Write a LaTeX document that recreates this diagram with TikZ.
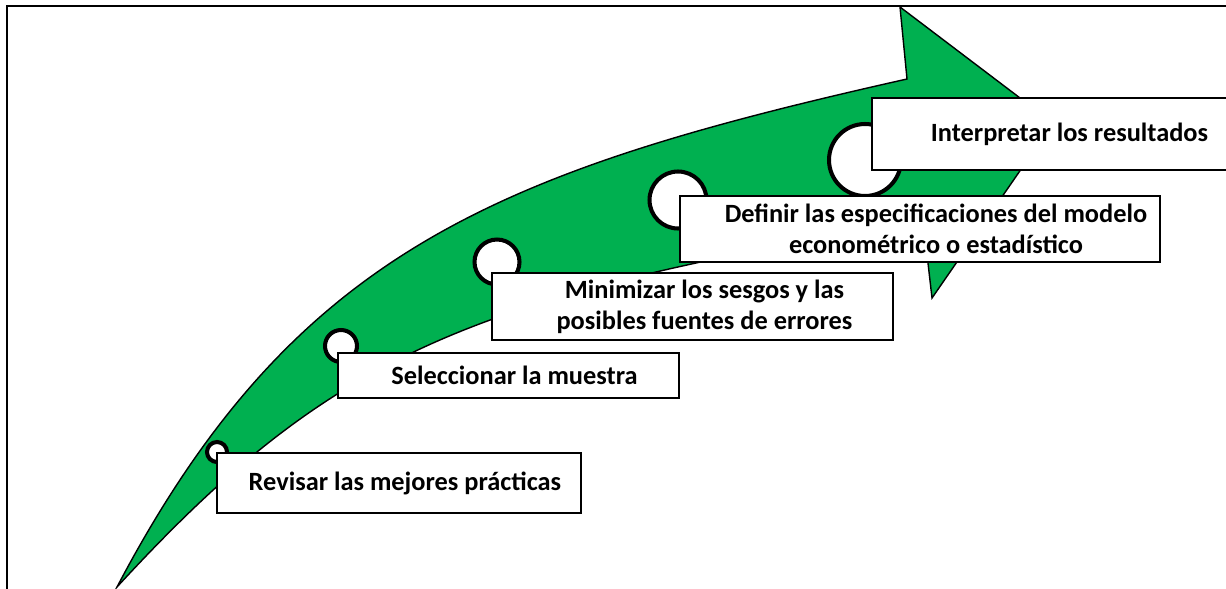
\documentclass[tikz,border=0pt]{standalone}
\usepackage{fontspec}
\setmainfont{Carlito}
\definecolor{arrowgreen}{RGB}{0,176,80}

\begin{document}
\begin{tikzpicture}[x=0.02cm,y=-0.02cm,
                stepbox/.style={draw,line width=1.1pt,fill=white,inner sep=0pt},
                ring/.style={circle,draw,line width=2.3pt,fill=white,inner sep=0pt},
                steptext/.style={font=\fontsize{15}{17.5}\selectfont\bfseries,align=center}
                ]
            \useasboundingbox (0,0) rectangle (1226,588);
            \clip (0,0) rectangle (1226,588);
            \draw[line width=0.9pt] (7,6) rectangle (1260,620);

            \coordinate (tail) at (117,587);
            \filldraw[fill=arrowgreen,line width=0.8pt,line join=miter]
                (tail) .. controls (294,251) and (497,171) .. (907,79)
                -- (900,7) -- (1053,123) -- (932,298) -- (923,220)
                .. controls (480,296.5) and (340,344) .. (tail) -- cycle;

            \node[ring,minimum size=0.4cm] (r1) at (217,452) {};
            \node[ring,minimum size=0.64cm] (r2) at (341,346) {};
            \node[ring,minimum size=0.9cm] (r3) at (497,262) {};
            \node[ring,minimum size=1.14cm] (r4) at (678,200) {};
            \node[ring,minimum size=1.44cm] (r5) at (865,160) {};

            \node[stepbox,minimum width=7.28cm,minimum height=1.2cm,label={[steptext,xshift=0.12cm]center:Revisar las mejores prácticas}] (revisar) at (399,483) {};
            \node[stepbox,minimum width=6.82cm,minimum height=0.9cm,label={[steptext,xshift=0.12cm]center:Seleccionar la muestra}] (seleccionar) at (508.5,375.5) {};
            \node[stepbox,minimum width=8.02cm,minimum height=1.34cm,label={[steptext,xshift=0.24cm]center:Minimizar los sesgos y las\\posibles fuentes de errores}] (minimizar) at (692.5,306.5) {};
            \node[stepbox,minimum width=9.6cm,minimum height=1.32cm,label={[steptext,xshift=0.32cm]center:Definir las especificaciones del modelo\\econométrico o estadístico}] (definir) at (920,229) {};
            \node[stepbox,minimum width=7.56cm,minimum height=1.44cm,label={[steptext,xshift=0.17cm]center:Interpretar los resultados}] (interpretar) at (1061,134) {};

            \end{tikzpicture}
\end{document}
